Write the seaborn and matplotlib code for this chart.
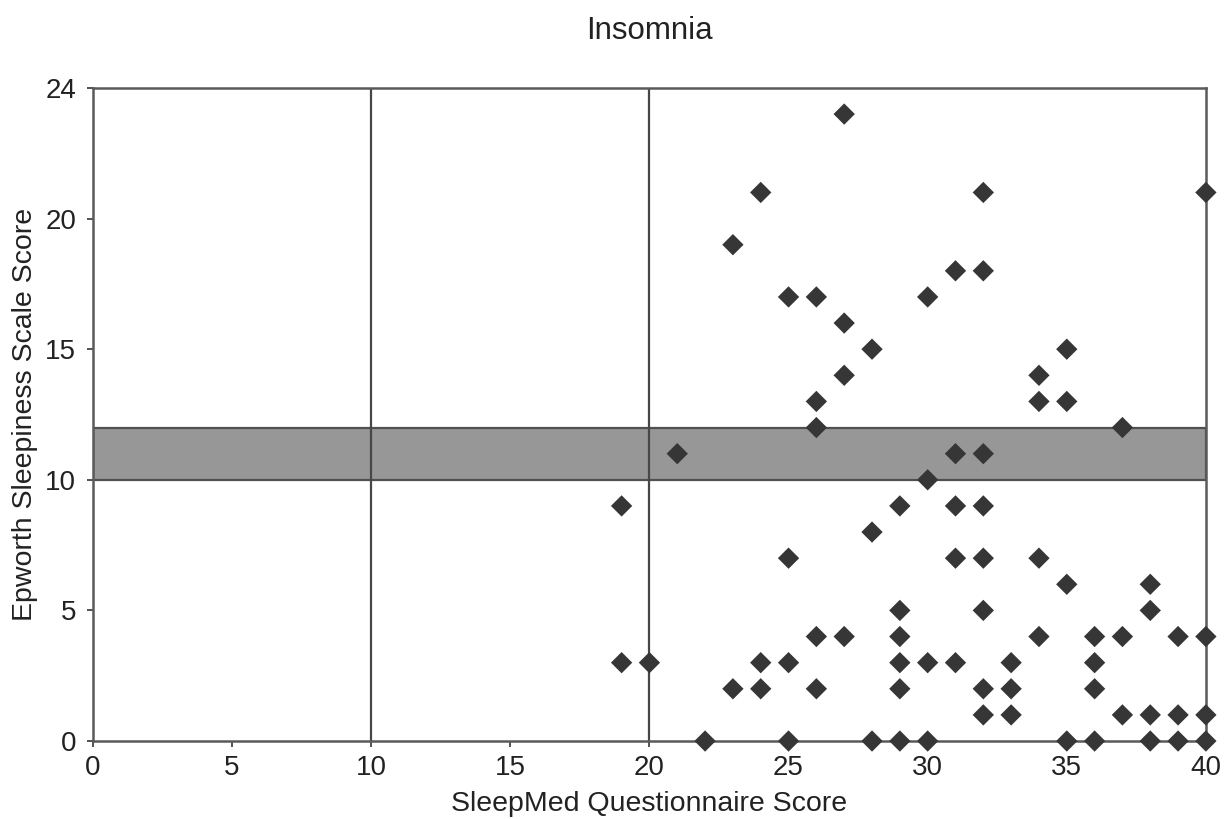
import matplotlib
matplotlib.use("Agg")
import matplotlib.pyplot as plt
import seaborn as sns
import pandas as pd

title = "Insomnia"
x_label = "SleepMed Questionnaire Score"
y_label = "Epworth Sleepiness Scale Score"

sleepmed = [19, 19, 20, 21, 22, 23, 23, 24, 24, 24, 25, 25, 25, 25,
            26, 26, 26, 26, 26, 27, 27, 27, 27, 28, 28, 28,
            29, 29, 29, 29, 29, 29, 30, 30, 30, 30,
            31, 31, 31, 31, 31, 32, 32, 32, 32, 32, 32, 32, 32,
            33, 33, 33, 34, 34, 34, 34, 35, 35, 35, 35,
            36, 36, 36, 36, 37, 37, 37, 38, 38, 38, 38,
            39, 39, 39, 40, 40, 40, 40]
epworth = [9, 3, 3, 11, 0, 19, 2, 21, 3, 2, 17, 7, 3, 0,
           17, 13, 12, 4, 2, 24, 16, 14, 4, 15, 8, 0,
           9, 5, 4, 3, 2, 0, 17, 10, 3, 0,
           18, 11, 9, 7, 3, 21, 18, 11, 9, 7, 5, 2, 1,
           3, 2, 1, 14, 13, 7, 4, 15, 13, 6, 0,
           4, 3, 2, 0, 12, 4, 1, 6, 5, 1, 0,
           4, 1, 0, 21, 4, 1, 0]

band_low, band_high = 10, 12
cutoffs = [10, 20]
x_ticks = [0, 5, 10, 15, 20, 25, 30, 35, 40]
y_ticks = [0, 5, 10, 15, 20, 25]
y_tick_labels = ["0", "5", "10", "15", "20", "24"]

df = pd.DataFrame({"SleepMed": sleepmed, "Epworth": epworth})

sns.set_theme(style="white")
plt.rcParams["font.family"] = ["Liberation Sans", "DejaVu Sans"]

fig = plt.figure(figsize=(12.28, 8.19), dpi=100)
ax = fig.add_axes([0.0757, 0.0952, 0.9063, 0.7974])

ax.axhspan(band_low, band_high, facecolor="#979797", edgecolor="#505050",
           linewidth=1.6, zorder=1)
for c in cutoffs:
    ax.axvline(c, color="#474747", linewidth=1.6, zorder=2)

sns.scatterplot(data=df, x="SleepMed", y="Epworth", marker="D", s=118,
                color="#363636", edgecolor="none", ax=ax, zorder=5,
                clip_on=False)

ax.set_xlim(0, 40)
ax.set_ylim(0, 25)
ax.set_xticks(x_ticks)
ax.set_yticks(y_ticks)
ax.set_yticklabels(y_tick_labels)
ax.tick_params(axis="both", labelsize=20, colors="#222222", length=4,
               width=1.3, direction="out", color="#444444",
               bottom=True, left=True)
ax.tick_params(axis="x", pad=6)
ax.tick_params(axis="y", pad=8)
for sp in ax.spines.values():
    sp.set_color("#5a5a5a")
    sp.set_linewidth(1.8)

ax.set_xlabel(x_label, fontsize=20.5, color="#222222", labelpad=7)
ax.set_ylabel(y_label, fontsize=20.5, color="#222222", labelpad=5)
ax.set_title(title, fontsize=22.5, color="#222222", pad=35)

fig.savefig("out.png", dpi=100)
